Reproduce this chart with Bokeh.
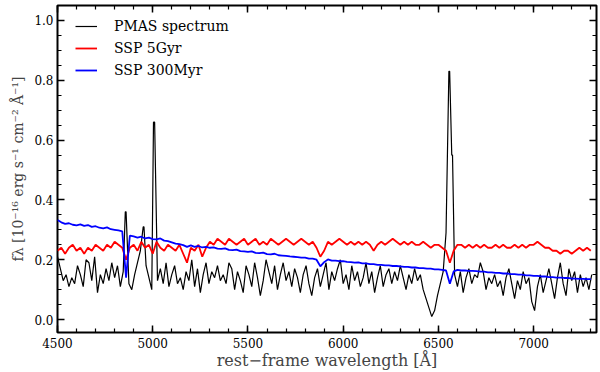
import numpy as np
from bokeh.plotting import figure
from bokeh.models import LinearAxis, FixedTicker, Range1d, PrintfTickFormatter
from bokeh.embed import file_html
from bokeh.resources import INLINE

# ---------------- data ----------------
pmas_start = 4500.0
pmas_step = 15.0
pmas_flux = [
    0.21, 0.17, 0.13, 0.15, 0.11, 0.14, 0.12, 0.18, 0.15, 0.11,
    0.20, 0.19, 0.13, 0.21, 0.09, 0.15, 0.12, 0.17, 0.13, 0.19,
    0.14, 0.18, 0.11, 0.16, 0.36, 0.12, 0.10, 0.15, 0.19, 0.23,
    0.31, 0.18, 0.14, 0.10, 0.66, 0.13, 0.17, 0.12, 0.19, 0.11,
    0.15, 0.18, 0.12, 0.14, 0.10, 0.16, 0.13, 0.20, 0.11, 0.17,
    0.09, 0.15, 0.19, 0.12, 0.16, 0.14, 0.18, 0.13, 0.15, 0.12,
    0.19, 0.17, 0.10, 0.16, 0.13, 0.09, 0.18, 0.15, 0.11, 0.19,
    0.14, 0.08, 0.13, 0.20, 0.16, 0.12, 0.18, 0.10, 0.15, 0.19,
    0.13, 0.16, 0.11, 0.17, 0.14, 0.09, 0.15, 0.18, 0.12, 0.08,
    0.14, 0.17, 0.11, 0.15, 0.19, 0.10, 0.16, 0.13, 0.17, 0.20,
    0.12, 0.15, 0.10, 0.18, 0.13, 0.16, 0.11, 0.14, 0.19, 0.12,
    0.16, 0.09, 0.14, 0.18, 0.11, 0.15, 0.17, 0.12, 0.16, 0.13,
    0.18, 0.14, 0.10, 0.15, 0.12, 0.17, 0.13, 0.15, 0.10, 0.07,
    0.04, 0.01, 0.03, 0.08, 0.12, 0.16, 0.29, 0.83, 0.55, 0.15,
    0.11, 0.16, 0.09, 0.14, 0.17, 0.12, 0.15, 0.14, 0.19, 0.16,
    0.10, 0.14, 0.12, 0.15, 0.11, 0.13, 0.08, 0.14, 0.17, 0.12,
    0.07, 0.13, 0.10, 0.16, 0.12, 0.14, 0.06, 0.03, 0.11, 0.15,
    0.09, 0.13, 0.17, 0.12, 0.07, 0.14, 0.19, 0.12, 0.08, 0.17,
    0.13, 0.16, 0.09, 0.15, 0.11, 0.14, 0.10, 0.15,
]
# flat tops of the emission lines (extra samples next to the peaks)
line_core_wave = [4856.0, 4954.0, 5004.0, 6559.0, 6574.0]
line_core_flux = [0.36, 0.31, 0.66, 0.83, 0.55]

ssp_start = 4500.0
ssp_step = 20.0
ssp5gyr_flux = [
    0.23, 0.24, 0.22, 0.24, 0.25, 0.23, 0.24, 0.22, 0.24, 0.23,
    0.25, 0.24, 0.23, 0.25, 0.24, 0.26, 0.25, 0.24, 0.20, 0.24,
    0.25, 0.23, 0.26, 0.24, 0.25, 0.22, 0.26, 0.24, 0.23, 0.25,
    0.24, 0.23, 0.25, 0.22, 0.19, 0.24, 0.23, 0.25, 0.21, 0.24,
    0.26, 0.25, 0.27, 0.26, 0.25, 0.27, 0.26, 0.25, 0.26, 0.27,
    0.25, 0.26, 0.27, 0.25, 0.26, 0.25, 0.27, 0.26, 0.25, 0.26,
    0.27, 0.26, 0.25, 0.26, 0.27, 0.26, 0.25, 0.26, 0.24, 0.21,
    0.23, 0.26, 0.25, 0.26, 0.27, 0.26, 0.25, 0.26, 0.25, 0.26,
    0.25, 0.26, 0.25, 0.23, 0.25, 0.26, 0.25, 0.26, 0.27, 0.26,
    0.25, 0.26, 0.25, 0.26, 0.25, 0.25, 0.26, 0.25, 0.24, 0.25,
    0.25, 0.24, 0.23, 0.19, 0.23, 0.25, 0.25, 0.24, 0.25, 0.24,
    0.25, 0.24, 0.25, 0.24, 0.24, 0.25, 0.24, 0.25, 0.24, 0.24,
    0.25, 0.24, 0.25, 0.24, 0.25, 0.25, 0.26, 0.25, 0.24, 0.24,
    0.23, 0.23, 0.22, 0.23, 0.23, 0.22, 0.23, 0.24, 0.23, 0.24,
    0.23,
]
ssp300myr_flux = [
    0.333, 0.325, 0.320, 0.322, 0.317, 0.315, 0.318, 0.313, 0.316, 0.310,
    0.312, 0.307, 0.305, 0.308, 0.302, 0.300, 0.298, 0.295, 0.140, 0.281,
    0.278, 0.274, 0.277, 0.271, 0.274, 0.269, 0.268, 0.271, 0.264, 0.262,
    0.258, 0.254, 0.252, 0.249, 0.243, 0.248, 0.243, 0.246, 0.241, 0.243,
    0.240, 0.241, 0.237, 0.236, 0.238, 0.233, 0.232, 0.234, 0.229, 0.228,
    0.226, 0.228, 0.223, 0.222, 0.224, 0.219, 0.218, 0.220, 0.215, 0.214,
    0.213, 0.211, 0.210, 0.209, 0.207, 0.207, 0.204, 0.204, 0.200, 0.178,
    0.192, 0.201, 0.197, 0.197, 0.195, 0.195, 0.193, 0.192, 0.190, 0.191,
    0.188, 0.188, 0.185, 0.185, 0.183, 0.183, 0.181, 0.181, 0.179, 0.179,
    0.178, 0.176, 0.176, 0.174, 0.174, 0.172, 0.172, 0.170, 0.170, 0.168,
    0.168, 0.166, 0.164, 0.120, 0.161, 0.166, 0.164, 0.164, 0.163, 0.163,
    0.162, 0.160, 0.160, 0.158, 0.158, 0.156, 0.156, 0.154, 0.154, 0.152,
    0.152, 0.150, 0.150, 0.148, 0.148, 0.146, 0.146, 0.144, 0.144, 0.142,
    0.142, 0.140, 0.140, 0.139, 0.139, 0.137, 0.137, 0.136, 0.136, 0.135,
    0.135,
]

x_major_ticks = [4500, 5000, 5500, 6000, 6500, 7000]
x_minor_ticks = list(range(4500, 7400, 100))
y_major_ticks = [0.0, 0.2, 0.4, 0.6, 0.8, 1.0]
y_minor_ticks = [round(0.05 * i, 2) for i in range(0, 22)]

grid_wave = pmas_start + pmas_step * np.arange(len(pmas_flux))
all_wave = np.concatenate([grid_wave, np.array(line_core_wave)])
all_flux = np.concatenate([np.array(pmas_flux), np.array(line_core_flux)])
order = np.argsort(all_wave, kind="stable")
pmas_wave = all_wave[order]
pmas_vals = all_flux[order]
ssp_wave = ssp_start + ssp_step * np.arange(len(ssp5gyr_flux))

FONT = "DejaVu Serif"

p = figure(width=600, height=372, output_backend="svg", toolbar_location=None,
           x_range=Range1d(4500, 7330), y_range=Range1d(-0.0433, 1.05),
           min_border_left=57, min_border_right=4, min_border_top=5,
           min_border_bottom=39)
p.grid.visible = False
p.outline_line_color = "black"
p.outline_line_width = 2
p.background_fill_color = "white"
p.border_fill_color = "white"

xt = FixedTicker(ticks=x_major_ticks, minor_ticks=x_minor_ticks)
yt = FixedTicker(ticks=y_major_ticks, minor_ticks=y_minor_ticks)


def style_axis(ax, ticker, show_labels):
    ax.ticker = ticker
    ax.major_tick_in = 7
    ax.major_tick_out = 0
    ax.minor_tick_in = 4
    ax.minor_tick_out = 0
    ax.major_tick_line_width = 1.5
    ax.minor_tick_line_width = 1.2
    ax.major_tick_line_color = "black"
    ax.minor_tick_line_color = "black"
    ax.axis_line_color = None
    ax.major_label_text_font = FONT
    if show_labels:
        ax.major_label_text_color = "black"
        ax.major_label_text_font_size = "12px"
        ax.major_label_standoff = 5
    else:
        ax.major_label_text_color = None
        ax.major_label_text_font_size = "1px"
        ax.major_label_standoff = 0


style_axis(p.xaxis[0], xt, True)
style_axis(p.yaxis[0], yt, True)
p.yaxis[0].major_label_standoff = 4
p.yaxis[0].formatter = PrintfTickFormatter(format="%.1f")
p.xaxis[0].axis_label = "rest\u2212frame wavelength [\u00c5]"
p.xaxis[0].axis_label_text_font = FONT
p.xaxis[0].axis_label_text_font_style = "normal"
p.xaxis[0].axis_label_text_font_size = "16px"
p.xaxis[0].axis_label_standoff = 0
p.yaxis[0].axis_label = "f\u03bb [10\u207b\u00b9\u2076 erg s\u207b\u00b9 cm\u207b\u00b2 \u00c5\u207b\u00b9]"
p.yaxis[0].axis_label_text_font = FONT
p.yaxis[0].axis_label_text_font_style = "normal"
p.yaxis[0].axis_label_text_font_size = "14px"
p.yaxis[0].axis_label_standoff = 5

top_ax = LinearAxis()
style_axis(top_ax, xt, False)
p.add_layout(top_ax, "above")
right_ax = LinearAxis()
style_axis(right_ax, yt, False)
p.add_layout(right_ax, "right")

p.line(pmas_wave, pmas_vals, line_color="black", line_width=1.2,
       legend_label="PMAS spectrum")
p.line(ssp_wave, ssp5gyr_flux, line_color="#ff0000", line_width=1.8,
       legend_label="SSP 5Gyr")
p.line(ssp_wave, ssp300myr_flux, line_color="#0000ff", line_width=1.8,
       legend_label="SSP 300Myr")

lg = p.legend[0]
lg.location = (18, 252)
lg.padding = 0
lg.margin = 0
lg.spacing = 2
lg.glyph_height = 20
lg.label_height = 20
lg.glyph_width = 22
lg.label_standoff = 17
lg.border_line_color = None
lg.background_fill_alpha = 0
lg.label_text_font = FONT
lg.label_text_font_size = "14px"
lg.label_text_color = "black"

open("out.html", "w").write(file_html(p, INLINE))
